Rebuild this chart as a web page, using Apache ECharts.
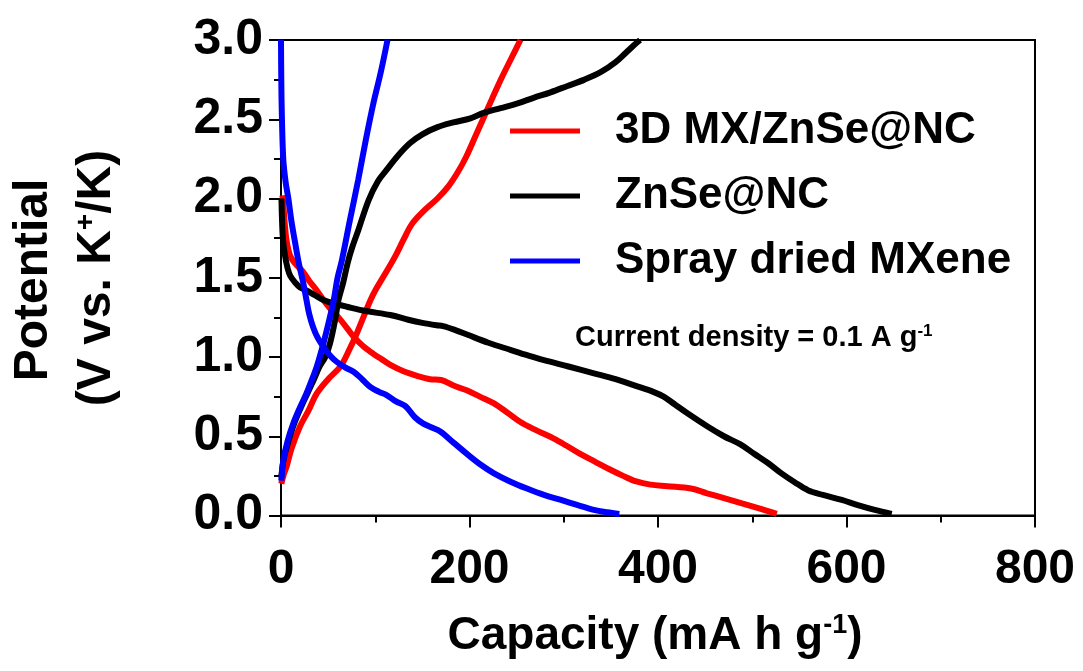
<!DOCTYPE html>
<html>
<head>
<meta charset="utf-8">
<script src="https://cdn.jsdelivr.net/npm/echarts@6/dist/echarts.min.js"></script>
<style>
  html, body { margin: 0; padding: 0; background: #fff; }
  #chart { width: 1083px; height: 671px; }
</style>
</head>
<body>
<div id="chart"></div>
<script>
// 数据：[容量 mA h g-1, 电位 V]
const seriesNames = ['3D MX/ZnSe@NC', 'ZnSe@NC', 'Spray dried MXene'];
const seriesColors = ['#ff0000', '#000000', '#0000ff'];

const mxDischarge = [[1.5, 2.02], [2.5, 1.96], [4, 1.84], [6, 1.73], [9.6, 1.64], [15, 1.59], [23, 1.54], [30, 1.48], [38, 1.42], [45, 1.36], [53, 1.3], [61, 1.25], [69, 1.19], [77, 1.128], [87, 1.07], [98, 1.02], [107, 0.985], [116, 0.95], [130, 0.91], [145, 0.88], [158, 0.86], [170, 0.855], [183, 0.82], [197, 0.79], [211, 0.75], [225, 0.71], [240, 0.65], [254, 0.59], [270, 0.54], [289, 0.487], [303, 0.44], [317, 0.39], [333, 0.34], [349, 0.29], [363, 0.25], [377, 0.215], [392, 0.195], [410, 0.185], [435, 0.17], [452, 0.14], [470, 0.11], [490, 0.075], [510, 0.04], [526, 0.01]];
const mxCharge = [[0.3, 0.2], [3, 0.26], [6, 0.31], [11, 0.42], [20, 0.56], [29, 0.66], [38, 0.77], [50, 0.86], [63, 0.94], [72, 1.04], [80.5, 1.15], [88, 1.26], [95, 1.36], [100, 1.42], [110, 1.52], [121, 1.633], [130, 1.74], [139, 1.84], [152, 1.925], [166, 2.0], [178, 2.08], [188, 2.17], [197, 2.27], [206, 2.39], [215, 2.51], [224, 2.63], [234, 2.76], [244, 2.88], [254, 3.0]];

const znDischarge = [[0.5, 2.0], [1, 1.88], [2, 1.75], [4, 1.65], [7, 1.56], [10, 1.51], [15, 1.47], [20, 1.44], [27, 1.42], [36, 1.39], [45, 1.36], [58, 1.335], [70, 1.317], [90, 1.29], [116, 1.265], [135, 1.235], [150, 1.215], [165, 1.2], [172, 1.195], [185, 1.17], [198, 1.14], [220, 1.09], [244, 1.044], [262, 1.01], [279, 0.98], [305, 0.94], [332, 0.897], [355, 0.86], [378, 0.815], [395, 0.78], [406, 0.75], [418, 0.7], [430, 0.65], [453, 0.56], [470, 0.5], [487, 0.45], [502, 0.39], [517, 0.33], [531, 0.266], [545, 0.21], [559, 0.16], [575, 0.13], [595, 0.098], [612, 0.065], [630, 0.035], [648, 0.01]];
const znCharge = [[0.3, 0.24], [3, 0.36], [8, 0.47], [14, 0.58], [21, 0.68], [28, 0.77], [35, 0.86], [41, 0.94], [47, 1.0], [52, 1.086], [57.4, 1.233], [61, 1.36], [66, 1.47], [71, 1.6], [76, 1.7], [82, 1.8], [93, 1.99], [103, 2.11], [112, 2.18], [124, 2.27], [137, 2.35], [150, 2.405], [166, 2.45], [183, 2.48], [201, 2.506], [215, 2.54], [233, 2.57], [251, 2.6], [268, 2.635], [286, 2.67], [304, 2.71], [322, 2.75], [340, 2.8], [355, 2.86], [366, 2.92], [375, 2.97], [381, 3.0]];

const sdDischarge = [[0, 3.0], [0.3, 2.75], [1, 2.5], [2.5, 2.24], [5, 2.1], [7.8, 2.0], [11, 1.86], [15, 1.72], [19, 1.59], [23.7, 1.465], [27, 1.36], [30, 1.27], [34, 1.19], [39, 1.12], [45, 1.065], [52, 1.01], [59, 0.97], [68, 0.935], [77, 0.907], [86, 0.86], [95, 0.81], [104, 0.78], [112, 0.76], [122, 0.72], [132, 0.69], [142, 0.62], [151, 0.58], [160, 0.555], [169, 0.53], [183, 0.46], [197, 0.39], [212, 0.32], [226, 0.266], [243, 0.215], [261, 0.17], [279, 0.13], [297, 0.098], [315, 0.065], [332, 0.035], [346, 0.02], [359, 0.01]];
const sdCharge = [[0.3, 0.22], [2.5, 0.35], [7, 0.47], [13, 0.58], [20, 0.68], [27, 0.77], [33, 0.86], [38, 0.94], [45, 1.086], [52, 1.254], [56, 1.36], [60, 1.5], [64.6, 1.61], [73, 1.86], [82, 2.12], [90, 2.37], [98, 2.6], [106, 2.8], [113, 3.0]];

const curves = [
  [mxDischarge, mxCharge],
  [znDischarge, znCharge],
  [sdDischarge, sdCharge]
];

const font = "'Liberation Sans', Arial, sans-serif";

const series_ = [];
curves.forEach((pair, i) => {
  pair.forEach(data => {
    series_.push({
      name: seriesNames[i],
      type: 'line',
      data: data,
      smooth: 0.35,
      symbol: 'none',
      color: seriesColors[i],
      lineStyle: { color: seriesColors[i], width: 6 },
      z: 2 + i
    });
  });
});

const chart = echarts.init(document.getElementById('chart'));
chart.setOption({
  animation: false,
  backgroundColor: '#fff',
  grid: {
    left: 281, top: 40, right: 48, bottom: 155.5,
    show: true, borderColor: '#000', borderWidth: 2
  },
  legend: {
    data: seriesNames,
    orient: 'vertical',
    left: 510, top: 106,
    padding: 0,
    icon: 'rect',
    itemWidth: 70, itemHeight: 5,
    itemGap: 15,
    textStyle: {
      fontFamily: font, fontWeight: 'bold', fontSize: 44, color: '#000',
      lineHeight: 50, padding: [0, 0, 0, 30]
    }
  },
  xAxis: {
    type: 'value',
    min: 0, max: 800, interval: 200,
    axisLine: { lineStyle: { color: '#000', width: 2 } },
    axisTick: { length: 12, lineStyle: { width: 2 } },
    minorTick: { show: true, splitNumber: 2, length: 7, lineStyle: { color: '#000', width: 2 } },
    splitLine: { show: false },
    axisLabel: { fontFamily: font, fontWeight: 'bold', fontSize: 48, color: '#000', margin: 30 }
  },
  yAxis: {
    type: 'value',
    min: 0, max: 3, interval: 0.5,
    axisLine: { lineStyle: { color: '#000', width: 2 } },
    axisTick: { length: 12, lineStyle: { width: 2 } },
    minorTick: { show: true, splitNumber: 2, length: 7, lineStyle: { color: '#000', width: 2 } },
    splitLine: { show: false },
    axisLabel: {
      fontFamily: font, fontWeight: 'bold', fontSize: 50, color: '#000', margin: 18,
      formatter: v => v.toFixed(1)
    }
  },
  graphic: [
    {
      // 电流密度标注
      type: 'text', x: 575, y: 338,
      style: {
        text: '{a|Current density = 0.1 A g}{s|-1}',
        align: 'left', verticalAlign: 'middle',
        rich: {
          a: { fontFamily: font, fontWeight: 'bold', fontSize: 29, color: '#000', lineHeight: 30 },
          s: { fontFamily: font, fontWeight: 'bold', fontSize: 17, color: '#000', verticalAlign: 'top', lineHeight: 18 }
        }
      }
    },
    {
      // x轴标题
      type: 'text', x: 655, y: 636,
      style: {
        text: '{a|Capacity (mA h g}{s|-1}{a|)}',
        align: 'center', verticalAlign: 'middle',
        rich: {
          a: { fontFamily: font, fontWeight: 'bold', fontSize: 46, color: '#000', lineHeight: 48 },
          s: { fontFamily: font, fontWeight: 'bold', fontSize: 27, color: '#000', verticalAlign: 'top', lineHeight: 28 }
        }
      }
    },
    {
      // y轴标题
      type: 'text', x: 34, y: 280, rotation: Math.PI / 2,
      style: {
        text: 'Potential',
        font: "bold 48px 'Liberation Sans', Arial, sans-serif",
        fill: '#000', align: 'center', verticalAlign: 'middle'
      }
    },
    {
      type: 'text', x: 97, y: 278, rotation: Math.PI / 2,
      style: {
        text: '{a|(V vs. K}{s|+}{a|/K)}',
        align: 'center', verticalAlign: 'middle',
        rich: {
          a: { fontFamily: font, fontWeight: 'bold', fontSize: 48, color: '#000', lineHeight: 50 },
          s: { fontFamily: font, fontWeight: 'bold', fontSize: 28, color: '#000', verticalAlign: 'top', lineHeight: 30 }
        }
      }
    }
  ],
  series: series_
});
</script>
</body>
</html>
